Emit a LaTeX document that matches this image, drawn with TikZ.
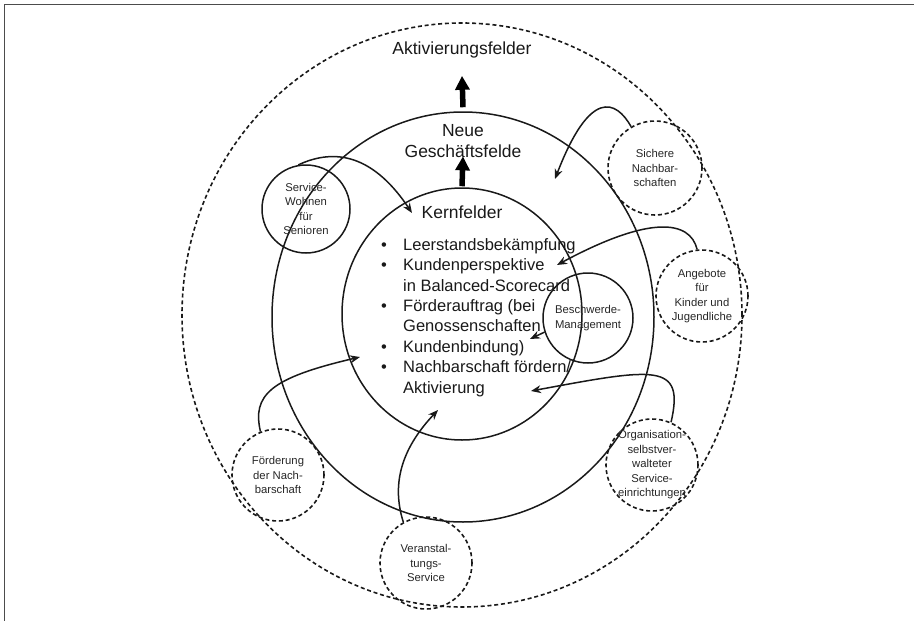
\documentclass[tikz,border=0pt]{standalone}
\usepackage{fontspec}
\setmainfont{Liberation Sans}
\usetikzlibrary{arrows.meta,shapes.geometric}
\begin{document}
\begin{tikzpicture}[x=1pt,y=-1pt,
  ring/.style={draw=black!90, line width=1.5pt},
  dring/.style={draw=black!90, line width=1.6pt, dash pattern=on 4pt off 2.8pt},
  bigring/.style={ellipse, inner sep=0pt},
  sat/.style={circle, inner sep=0pt},
  sattext/.style={align=center, font=\fontsize{11.3}{14.5}\selectfont, inner sep=0pt, text=black!85},
  conn/.style={draw=black!90, line width=1.5pt, -{Stealth[length=10pt,width=8pt]}},
  bigarrow/.style={draw=black, line width=5.5pt, -{Triangle[length=14pt,width=14pt]}},
  title/.style={font=\fontsize{17.5}{21}\selectfont, anchor=base, inner sep=0pt, text=black!90},
  item/.style={font=\fontsize{16.5}{20}\selectfont, anchor=base west, inner sep=0pt, text=black!90},
]
\useasboundingbox (0,0) rectangle (914,621);
\draw[line width=1.5pt, draw=black!70] (4.5,621) -- (4.5,4.5) -- (914,4.5);

% rings
\node[bigring, dring, minimum width=560pt, minimum height=584pt] (outer) at (462,315) {};
\node[bigring, ring, minimum width=382pt, minimum height=410pt] (mid) at (463,317) {};
\node[bigring, ring, minimum width=240pt, minimum height=252pt] (core) at (462,314) {};

% titles
\node[title] (akt) at (462,54) {Aktivierungsfelder};
\node[title] (neue) at (463,136.5) {Neue};
\node[title] (gsf) at (463,157) {Geschäftsfelde};
\node[title] (kern) at (462,218) {Kernfelder};

\draw[bigarrow] ([yshift=4pt]mid.north) -- ([yshift=-18pt]akt.south);
\draw[bigarrow] ([yshift=1pt]core.north) -- ([yshift=1pt]gsf.south);

% list
\node[item] (l1) at (381,250) {\makebox[22pt][l]{\textbullet}Leerstandsbekämpfung};
\node[item] (l2) at (381,270.5) {\makebox[22pt][l]{\textbullet}Kundenperspektive};
\node[item] (l3) at (381,291) {\makebox[22pt]{}in Balanced-Scorecard};
\node[item] (l4) at (381,311) {\makebox[22pt][l]{\textbullet}Förderauftrag (bei};
\node[item] (l5) at (381,331.5) {\makebox[22pt]{}Genossenschaften};
\node[item] (l6) at (381,352) {\makebox[22pt][l]{\textbullet}Kundenbindung)};
\node[item] (l7) at (381,372.5) {\makebox[22pt][l]{\textbullet}Nachbarschaft fördern/};
\node[item] (l8) at (381,393) {\makebox[22pt]{}Aktivierung};

% satellite circles
\node[sat, ring, minimum size=88pt] (sw) at (306,209) {};
\node[sattext] (swt) at (sw.center) {Service-\\Wohnen\\für\\Senioren};
\node[sat, dring, minimum size=94pt] (sn) at (655,168) {};
\node[sattext] (snt) at (sn.center) {Sichere\\Nachbar-\\schaften};
\node[sat, dring, minimum size=92pt] (ak) at (702,296) {};
\node[sattext] (akt2) at (ak.center) {Angebote\\für\\Kinder und\\Jugendliche};
\node[sat, ring, minimum size=90pt] (bm) at (588,318) {};
\node[sattext] (bmt) at (bm.center) {Beschwerde-\\Management};
\node[sat, dring, minimum size=92pt] (fn) at (278,475) {};
\node[sattext] (fnt) at (fn.center) {Förderung\\der Nach-\\barschaft};
\node[sat, dring, minimum size=92pt] (vs) at (426,563) {};
\node[sattext] (vst) at (vs.center) {Veranstal-\\tungs-\\Service};
\node[sat, dring, minimum size=92pt] (os) at (652,465) {};
\node[sattext] (ost) at (os.center) {Organisation-\\selbstver-\\walteter\\Service-\\einrichtungen};

% connector targets
\coordinate (t1) at (412,213);
\coordinate (t2) at (555,179);
\coordinate (t3) at (557,265);
\coordinate (t4) at (530,339);
\coordinate (t5) at (531,391);
\coordinate (t6) at (438,410);
\coordinate (t7) at (360,357);

\draw[conn] (sw.100) .. controls (330,150) and (370,150) .. (t1);
\draw[conn] (sn.120) .. controls (616,100) and (590,88) .. (t2);
\draw[conn] (ak.96) .. controls (690,220) and (650,215) .. (t3);
\draw[conn] (bm.198) -- (t4);
\draw[conn] (os.66) .. controls (685,362) and (655,368) .. (t5);
\draw[conn] (vs.119) .. controls (390,480) and (405,445) .. (t6);
\draw[conn] (fn.112) .. controls (252,395) and (270,378) .. (t7);
\end{tikzpicture}
\end{document}
